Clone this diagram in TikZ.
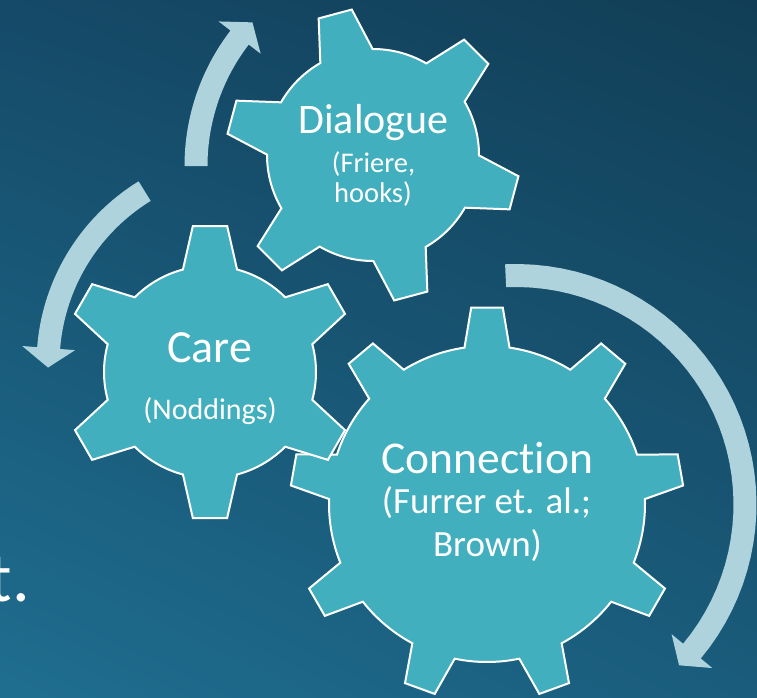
\documentclass[tikz,border=0pt]{standalone}
\usepackage{fontspec}
\setmainfont{Carlito}[RawFeature={-liga}]
\usetikzlibrary{shadings}
\definecolor{gearfill}{HTML}{42AFBE}
\definecolor{arrowfill}{HTML}{AED3DC}
\definecolor{bgUL}{HTML}{154A68}
\definecolor{bgUR}{HTML}{113E56}
\definecolor{bgLL}{HTML}{1F6E90}
\definecolor{bgLR}{HTML}{1A5C7C}

% gear: centre x, centre y, body radius, outer radius, teeth, first tooth angle,
%       half-angle of tooth at the body, half-angle of tooth at the tip
\newcommand\drawgear[8]{%
  \pgfmathsetmacro\gearstep{360/#5}%
  \filldraw[gear] ({#1+#3*cos(#6-#7)},{#2+#3*sin(#6-#7)})
    \foreach \k [evaluate=\k as \ta using {#6+(\k-1)*\gearstep}] in {1,...,#5} {
      -- ({#1+#4*cos(\ta-#8)},{#2+#4*sin(\ta-#8)})
      -- ({#1+#4*cos(\ta+#8)},{#2+#4*sin(\ta+#8)})
      -- ({#1+#3*cos(\ta+#7)},{#2+#3*sin(\ta+#7)})
      -- plot[domain=\ta+#7:\ta+\gearstep-#7, samples=16] ({#1+#3*cos(\x)},{#2+#3*sin(\x)})
    } -- cycle;}

% curved band with a wide flat head: centre x, centre y, mid radius,
%   start angle, angle of the head base, angle of the tip
\newcommand\bentarrow[6]{%
  \fill[turnarrow] plot[domain=#4:#5, samples=40] ({#1+(#3+11.5)*cos(\x)},{#2+(#3+11.5)*sin(\x)})
    -- ({#1+(#3+26.5)*cos(#5)},{#2+(#3+26.5)*sin(#5)})
    -- ({#1+#3*cos(#6)},{#2+#3*sin(#6)})
    -- ({#1+(#3-26.5)*cos(#5)},{#2+(#3-26.5)*sin(#5)})
    -- plot[domain=#5:#4, samples=40] ({#1+(#3-11.5)*cos(\x)},{#2+(#3-11.5)*sin(\x)})
    -- cycle;}

\begin{document}
\begin{tikzpicture}[x=1pt,y=-1pt,
  gear/.style={fill=gearfill, draw=white, line width=2pt, line join=miter},
  turnarrow/.style={fill=arrowfill},
  gtext/.style={text=white, inner sep=0pt, anchor=base},
]
\clip (0,0) rectangle (757,697);
\shade[upper left=bgUL, upper right=bgUR, lower left=bgLL, lower right=bgLR]
  (0,0) rectangle (757,697);

% cut-off slide text on the left
\node[gtext, anchor=base east, font=\fontsize{70}{80}\selectfont] (slideText) at (30,601) {t.};

% turning arrows
\bentarrow{407}{166}{211}{180}{217.5}{222.9}
\bentarrow{251}{364}{203}{238.4}{184.5}{179}
\bentarrow{516}{504.5}{229}{267.4}{399.8}{404.6}

% gears
\coordinate (conC) at (487,504);
\coordinate (careC) at (210,372);
\coordinate (dlgC) at (373,155);
\drawgear{487}{504}{158}{197}{9}{30}{8.2}{4.6}
\drawgear{210}{372}{106}{147}{6}{30}{14.8}{6.7}
\drawgear{373}{155}{106}{147}{6}{15}{14.8}{6.7}

% labels
\node[gtext, font=\fontsize{42}{50}\selectfont] (dlgTitle) at (373.5,133) {Dialogue};
\node[gtext, font=\fontsize{28.5}{34}\selectfont] (dlgRefA) at (373.5,172) {(Friere,};
\node[gtext, font=\fontsize{28.5}{34}\selectfont] (dlgRefB) at (373,202) {hooks)};
\node[gtext, font=\fontsize{46}{54}\selectfont] (careTitle) at (209.5,362) {Care};
\node[gtext, font=\fontsize{30}{36}\selectfont] (careRef) at (210,419) {(Noddings)};
\node[gtext, font=\fontsize{45.5}{54}\selectfont] (conTitle) at (487.5,473) {Connection};
\node[gtext, font=\fontsize{37}{44}\selectfont] (conRefA) at (486.5,513) {(Furrer et. al.;};
\node[gtext, font=\fontsize{37}{44}\selectfont] (conRefB) at (487.5,556) {Brown)};
\end{tikzpicture}
\end{document}
